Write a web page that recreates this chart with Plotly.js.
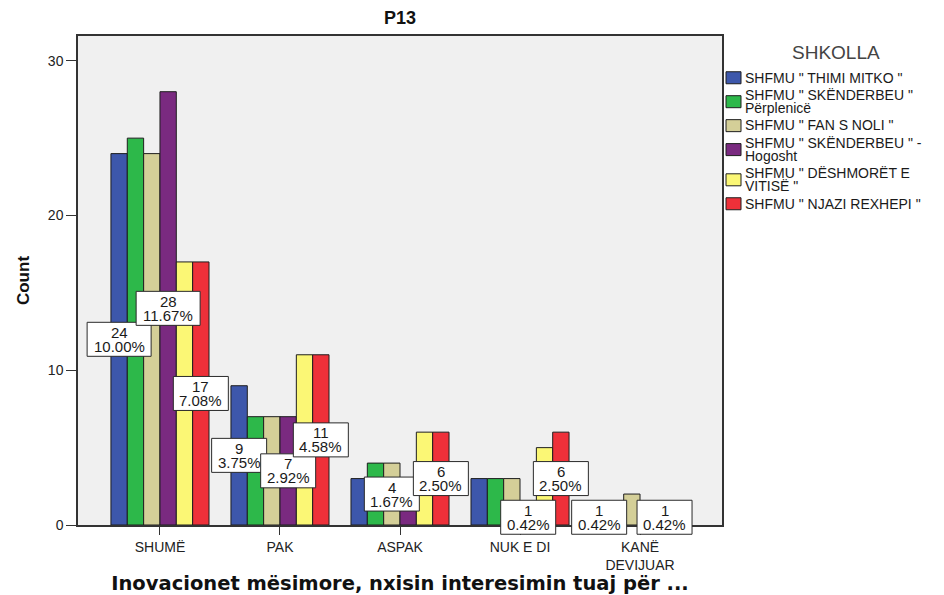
<!DOCTYPE html>
<html>
<head>
<meta charset="utf-8">
<script src="https://cdn.plot.ly/plotly-3.0.1.min.js"></script>
<style>
  html, body { margin: 0; padding: 0; background: #ffffff; }
  #chart { width: 944px; height: 595px; }
</style>
</head>
<body>
<div id="chart"></div>
<script>
// ---- Data ----
const categories = ["SHUMË", "PAK", "ASPAK", "NUK E DI", "KANË<br>DEVIJUAR"];
const seriesNames = [
  "SHFMU \" THIMI MITKO \"",
  "SHFMU \" SKËNDERBEU \"\nPërplenicë",
  "SHFMU \" FAN S NOLI \"",
  "SHFMU \" SKËNDERBEU \" -\nHogosht",
  "SHFMU \" DËSHMORËT E\nVITISË \"",
  "SHFMU \" NJAZI REXHEPI \""
];
const thimiMitko      = [24, 9, 3, 3, 1];
const skenderbeuPerp  = [25, 7, 4, 3, 1];
const fanSNoli        = [24, 7, 4, 3, 2];
const skenderbeuHog   = [28, 7, 2, 1, 1];
const deshmoretVitise = [17, 11, 6, 5, 1];
const njaziRexhepi    = [17, 11, 6, 6, 1];
const seriesColors = ["#3d57ab", "#2db84a", "#d4cf98", "#7a2a80", "#fbf775", "#ee3039"];
// bars that carry a count / percent label: [series index, category index]
const labelSeries = [0, 3, 5, 0, 3, 5, 2, 5, 3, 5, 0, 4];
const labelCats   = [0, 0, 0, 1, 1, 1, 2, 2, 3, 3, 4, 4];

const allSeries = [thimiMitko, skenderbeuPerp, fanSNoli, skenderbeuHog, deshmoretVitise, njaziRexhepi];
const total = allSeries.reduce((s, arr) => s + arr.reduce((a, b) => a + b, 0), 0);

// ---- Layout geometry ----
const W = 944, H = 595;
const M = {l: 78, r: 222, t: 36, b: 70};
const plotW = W - M.l - M.r, plotH = H - M.t - M.b;
const YMAX = 31.6;
const BARGAP = 0.183;
const FONT = "Liberation Sans, Arial, sans-serif";
const px2x = px => (px - M.l) / plotW;
const px2y = py => (H - M.b - py) / plotH;

const traces = allSeries.map((vals, i) => ({
  type: "bar",
  x: categories,
  y: vals,
  name: seriesNames[i].replace("\n", " "),
  marker: {color: seriesColors[i], line: {color: "#1e1e1e", width: 1}},
  showlegend: false,
  hoverinfo: "x+y+name"
}));

const shapes = [];
const annotations = [];

// value labels (boxes at half bar height)
const groupW = 1 - BARGAP;
const nS = allSeries.length;
labelSeries.forEach((s, k) => {
  const c = labelCats[k];
  const v = allSeries[s][c];
  const xPos = c - groupW / 2 + (s + 0.5) * groupW / nS;
  const pct = (v / total * 100).toFixed(2) + "%";
  const boxW = 9 * pct.length + 10;
  shapes.push({
    type: "rect", layer: "above",
    xref: "x", yref: "paper",
    xsizemode: "pixel", ysizemode: "pixel",
    xanchor: xPos, yanchor: (v / 2) / YMAX,
    x0: -boxW / 2, x1: boxW / 2, y0: -17, y1: 17,
    fillcolor: "#ffffff", line: {color: "#2a2a2a", width: 1}
  });
  annotations.push({
    xref: "x", yref: "y", x: xPos, y: v / 2, yshift: 7,
    text: String(v), showarrow: false,
    font: {family: FONT, size: 15, color: "#1a1a1a"}
  });
  annotations.push({
    xref: "x", yref: "y", x: xPos, y: v / 2, yshift: -7,
    text: pct, showarrow: false,
    font: {family: FONT, size: 15, color: "#1a1a1a"}
  });
});

// custom legend
annotations.push({
  xref: "paper", yref: "paper", x: px2x(836), y: px2y(53),
  text: "SHKOLLA", showarrow: false, xanchor: "center", yanchor: "middle",
  font: {family: FONT, size: 19, color: "#444444"}
});
let legTop = 71.5;
const lineH = 12.5, gap = 5.2;
seriesNames.forEach((nm, i) => {
  const lines = nm.split("\n");
  const h = lines.length * lineH;
  const cy = legTop + h / 2;
  shapes.push({
    type: "rect", layer: "above", xref: "paper", yref: "paper",
    x0: px2x(726), x1: px2x(741), y0: px2y(cy - 6), y1: px2y(cy + 6),
    fillcolor: seriesColors[i], line: {color: "#1e1e1e", width: 1}
  });
  lines.forEach((ln, k) => {
    annotations.push({
      xref: "paper", yref: "paper", x: px2x(743), y: px2y(legTop + 6 + k * lineH),
      text: ln, showarrow: false, xanchor: "left", yanchor: "middle",
      font: {family: FONT, size: 14, color: "#1a1a1a"}
    });
  });
  legTop += h + gap;
});

const layout = {
  width: W, height: H,
  margin: M,
  paper_bgcolor: "#ffffff",
  plot_bgcolor: "#f0f0f0",
  barmode: "group",
  bargap: BARGAP,
  bargroupgap: 0,
  showlegend: false,
  title: {
    text: "<b>P13</b>",
    x: 400 / W, xanchor: "center",
    y: 1 - 18 / H, yanchor: "middle",
    font: {family: FONT, size: 18, color: "#111111"}
  },
  xaxis: {
    type: "category",
    range: [-0.683, 4.683],
    showline: true, linecolor: "#333333", linewidth: 1.5, mirror: true,
    ticks: "outside", ticklen: 8, tickcolor: "#333333",
    showgrid: false, zeroline: false,
    tickfont: {family: FONT, size: 14, color: "#222222"},
    title: {
      text: "<b>Inovacionet mësimore, nxisin interesimin tuaj për ...</b>",
      font: {family: "DejaVu Sans, sans-serif", size: 19.5, color: "#111111"},
      standoff: 5
    }
  },
  yaxis: {
    range: [0, YMAX],
    tickvals: [0, 10, 20, 30],
    showline: true, linecolor: "#333333", linewidth: 1.5, mirror: true,
    ticks: "outside", ticklen: 10, tickcolor: "#333333",
    showgrid: false, zeroline: false,
    tickfont: {family: FONT, size: 14, color: "#222222"},
    title: {
      text: "<b>Count</b>",
      font: {family: FONT, size: 17, color: "#111111"},
      standoff: 14
    }
  },
  shapes: shapes,
  annotations: annotations
};

Plotly.newPlot("chart", traces, layout, {displayModeBar: false});
</script>
</body>
</html>
